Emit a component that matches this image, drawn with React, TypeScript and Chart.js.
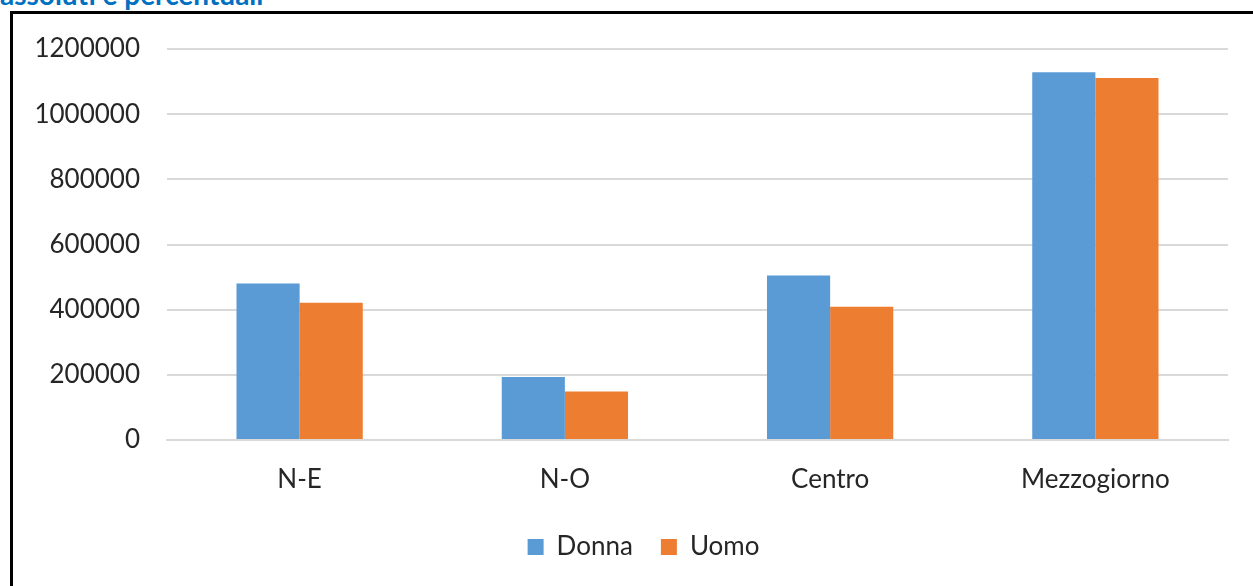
import React, { useEffect, useRef } from "react";
import { Chart, registerables } from "chart.js";

Chart.register(...registerables);

const categories = ["N-E", "N-O", "Centro", "Mezzogiorno"];
const donna = [480000, 193000, 505000, 1129000];
const uomo = [421000, 149000, 409000, 1111000];
const yTicks = [0, 200000, 400000, 600000, 800000, 1000000, 1200000];
const headingText = "assoluti e percentuali";

const FONT = "Lato, 'Open Sans', sans-serif";

const legendShift = {
  id: "legendShift",
  afterLayout(chart: any) {
    if (chart.legend) {
      chart.legend.left += 23;
      chart.legend.right += 23;
    }
  },
};

export default function App() {
  const ref = useRef<HTMLCanvasElement | null>(null);

  useEffect(() => {
    document.body.style.margin = "0";
    const ctx = ref.current!;
    const chart = new Chart(ctx, {
      type: "bar",
      data: {
        labels: categories,
        datasets: [
          { label: "Donna", data: donna, backgroundColor: "#5B9BD5", borderWidth: 0 },
          { label: "Uomo", data: uomo, backgroundColor: "#ED7D31", borderWidth: 0 },
        ],
      },
      plugins: [legendShift],
      options: {
        animation: false,
        responsive: false,
        maintainAspectRatio: false,
        layout: { padding: { top: 35, right: 25, left: 0, bottom: 16 } },
        datasets: { bar: { categoryPercentage: 0.476, barPercentage: 1 } },
        plugins: {
          legend: {
            position: "bottom",
            labels: {
              boxWidth: 16,
              boxHeight: 16,
              padding: 28,
              color: "#262626",
              font: { family: FONT, size: 26 },
            },
          },
          tooltip: { enabled: false },
        },
        scales: {
          x: {
            grid: { display: false },
            border: { display: true, color: "#d9d9d9", width: 2 },
            ticks: { color: "#262626", padding: 16, font: { family: FONT, size: 26 } },
            afterFit: (s: any) => {
              s.height = 66;
            },
          },
          y: {
            min: 0,
            max: 1200000,
            afterBuildTicks: (s: any) => {
              s.ticks = yTicks.map((v) => ({ value: v }));
            },
            grid: {
              color: "#d9d9d9",
              lineWidth: 2,
              drawTicks: true,
              tickLength: 25,
              tickColor: "rgba(0,0,0,0)",
            },
            border: { display: false },
            ticks: {
              color: "#262626",
              padding: 2,
              font: { family: FONT, size: 26 },
              callback: (v: any) => String(v),
            },
            afterFit: (s: any) => {
              s.width = 154;
            },
          },
        },
      },
    });
    return () => chart.destroy();
  }, []);

  return (
    <div
      style={{
        position: "fixed",
        left: 0,
        top: 0,
        width: 1253,
        height: 586,
        overflow: "hidden",
        background: "#fff",
      }}
    >
      <div
        style={{
          position: "absolute",
          left: 0,
          top: -20,
          fontFamily: FONT,
          fontWeight: 700,
          fontSize: 28,
          lineHeight: "28px",
          color: "#0070C0",
          whiteSpace: "nowrap",
        }}
      >
        {headingText}
      </div>
      <div
        style={{
          position: "absolute",
          left: 10,
          top: 11,
          width: 1260,
          height: 600,
          border: "3px solid #000",
          boxSizing: "border-box",
        }}
      />
      <canvas
        ref={ref}
        width={1240}
        height={572}
        style={{ position: "absolute", left: 13, top: 14, width: 1240, height: 572 }}
      />
    </div>
  );
}
